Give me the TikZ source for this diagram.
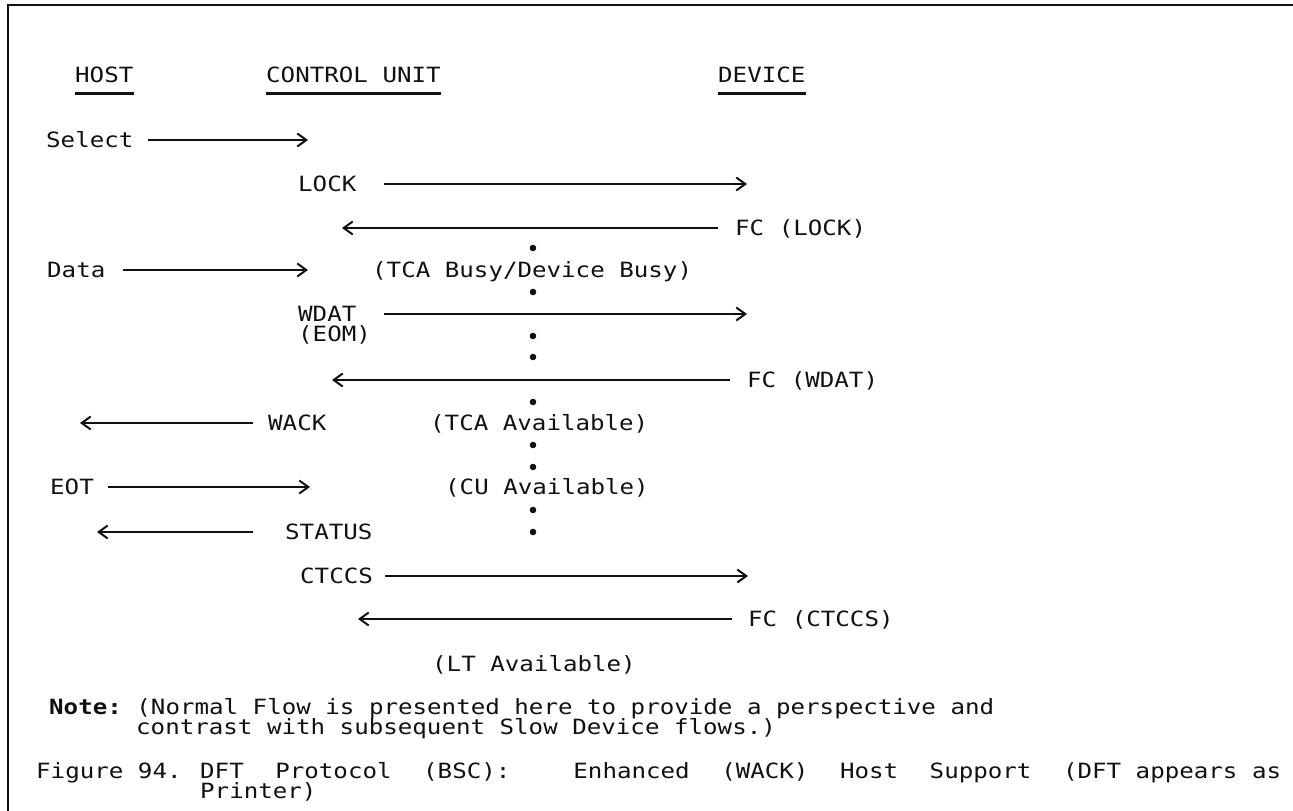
\documentclass[tikz,border=0pt]{standalone}
\usepackage{fontspec}
\setmonofont{DejaVu Sans Mono}[FakeStretch=1.15]
\usetikzlibrary{arrows.meta}
\definecolor{ink}{HTML}{111111}
\tikzset{
  lbl/.style={anchor=west, inner sep=0pt, text height=15.3pt, text depth=0pt,
              font=\fontsize{21pt}{21pt}\selectfont\ttfamily, text=ink},
  arr/.style={draw=ink, line width=1.6pt,
              -{Straight Barb[length=9pt, width=13pt, line width=2pt]}},
  ul/.style={draw=ink, line width=2.6pt},
  frame/.style={draw=ink, line width=2.4pt},
  dotm/.style={fill=ink}
}
\begin{document}
\begin{tikzpicture}[x=1pt, y=-1pt]
\useasboundingbox (0,0) rectangle (1293,811);
\fill[white] (0,0) rectangle (1293,811);
% frame
\draw[frame] (1293,5) -- (8,5) -- (8,811);
% headers
\node[lbl] (host) at (75,75) {HOST};
\node[lbl] (cu) at (266,75) {CONTROL UNIT};
\node[lbl] (dev) at (718,75) {DEVICE};
\foreach \n in {host,cu,dev}
  \draw[ul] ([yshift=-10.4pt]\n.south west) -- ([yshift=-10.4pt]\n.south east);
% rows
\node[lbl] (select) at (46,140) {Select};
\coordinate (selE) at (308,140);
\draw[arr, shorten <=14.8pt] (select.east) -- (selE);

\node[lbl] (lock) at (298,184) {LOCK};
\coordinate (lockE) at (747,184);
\draw[arr, shorten <=27pt] (lock.east) -- (lockE);

\node[lbl] (fclock) at (735,228) {FC (LOCK)};
\coordinate (fclockE) at (342,228);
\draw[arr, shorten <=17pt] (fclock.west) -- (fclockE);

\node[lbl] (data) at (47,270) {Data};
\coordinate (dataE) at (308,270);
\draw[arr, shorten <=17pt] (data.east) -- (dataE);
\node[lbl] (busy) at (372,270) {(TCA Busy/Device Busy)};

\node[lbl] (wdat) at (298,314) {WDAT};
\node[lbl] (eom) at (298,334) {(EOM)};
\coordinate (wdatE) at (747,314);
\draw[arr, shorten <=27pt] (wdat.east) -- (wdatE);

\node[lbl] (fcwdat) at (747,380) {FC (WDAT)};
\coordinate (fcwdatE) at (332,380);
\draw[arr, shorten <=17pt] (fcwdat.west) -- (fcwdatE);

\node[lbl] (wack) at (268,423) {WACK};
\coordinate (wackE) at (80,423);
\draw[arr, shorten <=15pt] (wack.west) -- (wackE);
\node[lbl] (tcaav) at (430,423) {(TCA Available)};

\node[lbl] (eot) at (50,487) {EOT};
\coordinate (eotE) at (310,487);
\draw[arr, shorten <=14.4pt] (eot.east) -- (eotE);
\node[lbl] (cuav) at (445,487) {(CU Available)};

\node[lbl] (status) at (285,532) {STATUS};
\coordinate (statusE) at (97,532);
\draw[arr, shorten <=32pt] (status.west) -- (statusE);

\node[lbl] (ctccs) at (300,576) {CTCCS};
\coordinate (ctccsE) at (748,576);
\draw[arr, shorten <=12.3pt] (ctccs.east) -- (ctccsE);

\node[lbl] (fcctccs) at (748,619) {FC (CTCCS)};
\coordinate (fcctccsE) at (358,619);
\draw[arr, shorten <=16pt] (fcctccs.west) -- (fcctccsE);

\node[lbl] (ltav) at (432,664) {(LT Available)};

% dots
\foreach \yy in {248,292,336,357,402,445,467,510,532}
  \fill[dotm] (533,\yy) circle (3.3);

% note and caption
\node[lbl] (note) at (49,707) {\textbf{Note:} (Normal Flow is presented here to provide a perspective and};
\node[lbl] (note2) at (136,727) {contrast with subsequent Slow Device flows.)};
\node[lbl] (fig) at (36,771) {Figure 94.};
\node[lbl] (cap) at (200,771) {\makebox[1081pt][l]{DFT\hfill Protocol\hfill (BSC):\hfill\hfill Enhanced\hfill (WACK)\hfill Host\hfill Support\hfill (DFT appears as}};
\node[lbl] (cap2) at (200,791) {Printer)};
\end{tikzpicture}
\end{document}
